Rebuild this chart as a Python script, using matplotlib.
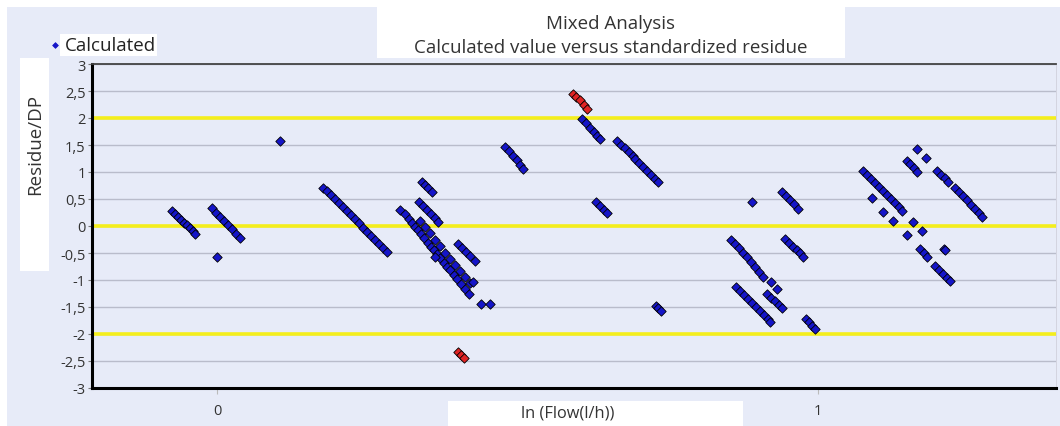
import matplotlib
matplotlib.use("Agg")
import matplotlib.pyplot as plt
from matplotlib.patches import Rectangle
from matplotlib.ticker import FuncFormatter, MultipleLocator

plt.rcParams['font.family'] = ['Open Sans', 'DejaVu Sans']

# ---------------- data ----------------
title_lines = ["Mixed Analysis", "Calculated value versus standardized residue"]
x_label = "ln (Flow(l/h))"
y_label = "Residue/DP"
series_label = "Calculated"
limit_lines = [-2, 0, 2]
x_ticks = [0, 1]

calc_x = [
    # streak near -0.05
    -0.075, -0.070, -0.065, -0.060, -0.055, -0.050, -0.045, -0.040, -0.036,
    # streak near 0.015
    -0.008, -0.002, 0.005, 0.012, 0.018, 0.025, 0.032, 0.038,
    0.000, 0.105,
    # streak 0.18-0.28
    0.176, 0.183, 0.190, 0.196, 0.203, 0.210, 0.216, 0.223, 0.230, 0.236,
    0.243, 0.250, 0.256, 0.263, 0.270, 0.276, 0.283,
    # dense cluster 0.30-0.43
    0.341, 0.346, 0.351, 0.358,
    0.336, 0.343, 0.349, 0.356, 0.363, 0.368,
    0.305,
    0.313, 0.319, 0.324, 0.329, 0.334, 0.339, 0.344, 0.351, 0.356, 0.361,
    0.366, 0.371, 0.378, 0.383, 0.388, 0.394, 0.399, 0.406, 0.413, 0.419,
    0.338, 0.346, 0.354, 0.363, 0.371, 0.379, 0.388, 0.396, 0.404, 0.413,
    0.421, 0.426, 0.363,
    0.401, 0.408, 0.414, 0.421, 0.429,
    0.439, 0.454,
    # 0.48-0.51
    0.479, 0.486, 0.493, 0.499, 0.504, 0.509,
    # 0.60-0.74
    0.607, 0.614, 0.621, 0.627, 0.632, 0.637,
    0.631, 0.637, 0.644, 0.649,
    0.666, 0.672, 0.679, 0.686, 0.692,
    0.696, 0.702, 0.709, 0.716, 0.722, 0.729, 0.734,
    0.730, 0.734, 0.739,
    # 0.85-1.0
    0.890,
    0.940, 0.947, 0.953, 0.960, 0.967,
    0.855, 0.862, 0.869, 0.875, 0.882, 0.889, 0.895, 0.902, 0.908,
    0.922, 0.932,
    0.915, 0.922, 0.928, 0.935, 0.940,
    0.864, 0.870, 0.877, 0.884, 0.890, 0.897, 0.903, 0.910, 0.917, 0.920,
    0.945, 0.952, 0.958, 0.965, 0.970, 0.975,
    0.980, 0.985, 0.990, 0.995,
    # 1.07-1.28
    1.075, 1.082, 1.088, 1.095, 1.101, 1.108, 1.115, 1.121, 1.128, 1.135, 1.140,
    1.090, 1.108, 1.125, 1.158, 1.173, 1.148,
    1.170, 1.176, 1.181,
    1.209, 1.211,
    1.195, 1.201, 1.208, 1.215, 1.220,
    1.165, 1.180,
    1.148, 1.153, 1.160, 1.165,
    1.198, 1.205, 1.211, 1.216,
    1.228, 1.235, 1.241, 1.248, 1.255, 1.261, 1.268, 1.273,
]
calc_y = [
    0.28, 0.23, 0.17, 0.12, 0.06, 0.01, -0.04, -0.10, -0.15,
    0.33, 0.25, 0.17, 0.10, 0.02, -0.06, -0.14, -0.22,
    -0.57, 1.57,
    0.70, 0.65, 0.57, 0.50, 0.43, 0.35, 0.28, 0.20, 0.13, 0.06,
    -0.04, -0.11, -0.19, -0.26, -0.33, -0.41, -0.48,
    0.81, 0.76, 0.70, 0.63,
    0.44, 0.37, 0.30, 0.22, 0.15, 0.07,
    0.30,
    0.22, 0.13, 0.06, -0.01, -0.07, -0.15, -0.22, -0.31, -0.38, -0.44,
    -0.52, -0.59, -0.69, -0.75, -0.81, -0.91, -0.98, -1.07, -1.17, -1.26,
    0.09, -0.02, -0.13, -0.26, -0.37, -0.50, -0.61, -0.72, -0.83, -0.94,
    -1.06, -1.04, -0.57,
    -0.33, -0.41, -0.48, -0.56, -0.65,
    -1.44, -1.44,
    1.46, 1.39, 1.30, 1.22, 1.13, 1.06,
    1.98, 1.91, 1.81, 1.74, 1.67, 1.61,
    0.44, 0.37, 0.30, 0.24,
    1.57, 1.50, 1.44, 1.37, 1.30,
    1.24, 1.17, 1.09, 1.02, 0.94, 0.87, 0.81,
    -1.48, -1.52, -1.57,
    0.44,
    0.63, 0.56, 0.48, 0.41, 0.31,
    -0.26, -0.33, -0.41, -0.50, -0.57, -0.67, -0.76, -0.85, -0.94,
    -1.04, -1.17,
    -1.26, -1.33, -1.39, -1.46, -1.52,
    -1.13, -1.20, -1.28, -1.35, -1.43, -1.50, -1.57, -1.65, -1.72, -1.78,
    -0.24, -0.31, -0.39, -0.44, -0.50, -0.57,
    -1.72, -1.78, -1.85, -1.91,
    1.02, 0.94, 0.87, 0.80, 0.72, 0.65, 0.57, 0.50, 0.43, 0.35, 0.28,
    0.52, 0.26, 0.09, 0.07, -0.09, -0.17,
    -0.43, -0.50, -0.57,
    -0.42, -0.44,
    -0.74, -0.81, -0.89, -0.96, -1.02,
    1.43, 1.26,
    1.20, 1.15, 1.07, 1.00,
    1.02, 0.94, 0.89, 0.81,
    0.70, 0.63, 0.56, 0.48, 0.39, 0.31, 0.24, 0.17,
]
# points beyond +/-2 (highlighted in red)
out_x = [0.592, 0.597, 0.604, 0.611, 0.616, 0.401, 0.406, 0.411]
out_y = [2.44, 2.39, 2.33, 2.24, 2.17, -2.33, -2.39, -2.44]

# ---------------- styling ----------------
W, H = 1060, 427
BG = '#e7ebf8'
BLUE = '#1515c8'
RED = '#e02424'
YELLOW = '#f4ee1c'
TXT = '#333333'

fig = plt.figure(figsize=(W / 100, H / 100), dpi=100, facecolor='white')


def fbox(x0, y0, x1, y1, color, z=-5):
    """rectangle in pixel units of the figure (top-left origin)"""
    fig.patches.append(Rectangle((x0 / W, 1 - y1 / H), (x1 - x0) / W, (y1 - y0) / H,
                                 transform=fig.transFigure, facecolor=color,
                                 edgecolor='none', zorder=z))


fbox(7, 8, W, H, BG, z=-10)
fbox(377, 8, 845, 59, 'white')
fbox(60, 35, 157, 57, 'white')
fbox(20, 59, 49, 272, 'white')
fbox(448, 402, 743, 427, 'white')

ax_l, ax_r, ax_t, ax_b = 92, 1056, 65, 389
ax = fig.add_axes([ax_l / W, 1 - ax_b / H, (ax_r - ax_l) / W, (ax_b - ax_t) / H])
ax.set_facecolor(BG)
ax.set_xlim(-0.208, 1.396)
ax.set_ylim(-3, 3)

ax.yaxis.set_major_locator(MultipleLocator(0.5))
ax.set_xticks(x_ticks)


def comma(v, pos):
    s = ('%g' % round(v, 2))
    return s.replace('.', ',')


ax.yaxis.set_major_formatter(FuncFormatter(comma))
ax.xaxis.set_major_formatter(FuncFormatter(comma))
ax.grid(axis='y', color='#b9bccb', linewidth=1.0, zorder=0)
ax.set_axisbelow(True)
for v in limit_lines:
    ax.axhline(v, color=YELLOW, linewidth=2.6, zorder=1)

ax.tick_params(axis='y', length=3, width=0.8, color='#777777', labelsize=10.5,
               labelcolor=TXT, pad=1.5)
ax.tick_params(axis='x', length=4, width=0.8, color='#bbbbbb', labelsize=10.5,
               labelcolor=TXT, pad=7)

for side in ('left', 'bottom'):
    ax.spines[side].set_linewidth(2.2)
    ax.spines[side].set_color('black')
ax.spines['top'].set_linewidth(1.3)
ax.spines['top'].set_color('#444444')
ax.spines['right'].set_linewidth(0.6)
ax.spines['right'].set_color('#d0d0dc')

ax.scatter(calc_x, calc_y, marker='D', s=23, facecolor=BLUE, edgecolor='black',
           linewidth=0.6, zorder=3, label=series_label)
ax.scatter(out_x, out_y, marker='D', s=23, facecolor=RED, edgecolor='black',
           linewidth=0.6, zorder=3)

# legend
leg = ax.legend(loc='center left', bbox_to_anchor=(42 / W, 1 - 46 / H),
                bbox_transform=fig.transFigure, frameon=False, fontsize=13.5,
                handlelength=0.4, handletextpad=0.3, borderpad=0,
                markerscale=0.6)
for t in leg.get_texts():
    t.set_color('#222222')
leg.legend_handles[0].set_edgecolor(BLUE)

# titles and axis labels
fig.text(611 / W, 1 - 24 / H, title_lines[0], ha='center', va='center',
         fontsize=13.5, color=TXT)
fig.text(611 / W, 1 - 48 / H, title_lines[1], ha='center', va='center',
         fontsize=13.5, color=TXT)
fig.text(35 / W, 1 - 145 / H, y_label, ha='center', va='center', rotation=90,
         fontsize=13.5, color=TXT)
fig.text(568 / W, 1 - 414 / H, x_label, ha='center', va='center',
         fontsize=11.8, color=TXT)

fig.savefig('out.png', dpi=100, facecolor='white')
